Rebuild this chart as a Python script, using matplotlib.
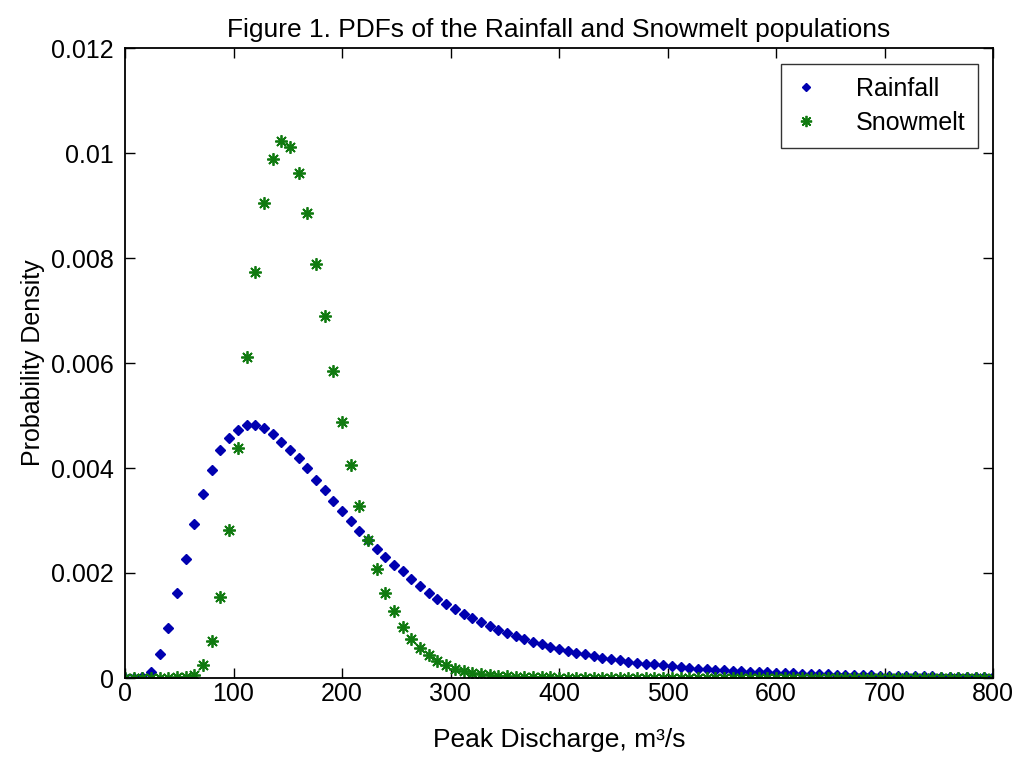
import matplotlib
matplotlib.use("Agg")
import matplotlib.pyplot as plt
from matplotlib.ticker import FixedLocator

plt.rcParams['font.family'] = ['Liberation Sans', 'DejaVu Sans']

# Sample grid of peak discharge (m^3/s)
discharge = list(range(0, 801, 8))

rainfall = [
    0.0, 0.0, 0.00002, 0.00012, 0.00046, 0.00096, 0.00162, 0.00227, 0.00293, 0.00350,
    0.00396, 0.00435, 0.00457, 0.00472, 0.00481, 0.00481, 0.00476, 0.00465, 0.00450, 0.00435,
    0.00419, 0.00400, 0.00378, 0.00358, 0.00338, 0.00319, 0.00299, 0.00280, 0.00262, 0.00245,
    0.00231, 0.00216, 0.00203, 0.00189, 0.00175, 0.00162, 0.00151, 0.00141, 0.00131, 0.00122,
    0.00114, 0.00107, 0.00100, 0.00092, 0.00086, 0.00080, 0.00074, 0.00069, 0.00064, 0.00059,
    0.00055, 0.00051, 0.00048, 0.00045, 0.00042, 0.00039, 0.00036, 0.00034, 0.00031, 0.00029,
    0.00027, 0.00026, 0.00024, 0.00023, 0.00021, 0.00020, 0.00018, 0.00017, 0.00016, 0.00015,
    0.00014, 0.00013, 0.00012, 0.00011, 0.00011, 0.00010, 0.00009, 0.00009, 0.00008, 0.00008,
    0.00007, 0.00007, 0.00006, 0.00006, 0.00005, 0.00005, 0.00005, 0.00004, 0.00004, 0.00004,
    0.00003, 0.00003, 0.00003, 0.00003, 0.00002, 0.00002, 0.00002, 0.00002, 0.00002, 0.00002,
    0.00001,
]

snowmelt = [
    0.0, 0.0, 0.0, 0.0, 0.0, 0.0, 0.00001, 0.00002, 0.00005, 0.00024,
    0.00071, 0.00154, 0.00281, 0.00438, 0.00612, 0.00773, 0.00904, 0.00988, 0.01023, 0.01012,
    0.00961, 0.00885, 0.00789, 0.00689, 0.00585, 0.00488, 0.00405, 0.00328, 0.00262, 0.00208,
    0.00162, 0.00127, 0.00098, 0.00074, 0.00057, 0.00043, 0.00032, 0.00024, 0.00018, 0.00013,
    0.00010, 0.00007, 0.00005, 0.00004, 0.00003, 0.00002, 0.00002, 0.00001, 0.00001, 0.00001,
    0.0, 0.0, 0.0, 0.0, 0.0, 0.0, 0.0, 0.0, 0.0, 0.0,
    0.0, 0.0, 0.0, 0.0, 0.0, 0.0, 0.0, 0.0, 0.0, 0.0,
    0.0, 0.0, 0.0, 0.0, 0.0, 0.0, 0.0, 0.0, 0.0, 0.0,
    0.0, 0.0, 0.0, 0.0, 0.0, 0.0, 0.0, 0.0, 0.0, 0.0,
    0.0, 0.0, 0.0, 0.0, 0.0, 0.0, 0.0, 0.0, 0.0, 0.0,
    0.0,
]

x_ticks = [0, 100, 200, 300, 400, 500, 600, 700, 800]
y_ticks = [0, 0.002, 0.004, 0.006, 0.008, 0.010, 0.012]
y_tick_labels = ["0", "0.002", "0.004", "0.006", "0.008", "0.01", "0.012"]

title = "Figure 1. PDFs of the Rainfall and Snowmelt populations"
xlabel = "Peak Discharge, m\u00b3/s"
ylabel = "Probability Density"

FS = 18

fig = plt.figure(figsize=(10.17, 7.61), dpi=100)
ax = fig.add_axes([125 / 1017, 1 - 678 / 761, 868 / 1017, 630 / 761])

ax.plot(discharge, rainfall, linestyle='none', marker='D', markersize=4.8,
        color='#0000b0', markeredgecolor='#0000b0', label='Rainfall')
ax.plot(discharge, snowmelt, linestyle='none', marker=(8, 2, 0), markersize=9,
        markeredgewidth=1.3, color='#107a10', markeredgecolor='#107a10', label='Snowmelt')

ax.set_xlim(0, 800)
ax.set_ylim(0, 0.012)
ax.xaxis.set_major_locator(FixedLocator(x_ticks))
ax.set_yticks(y_ticks)
ax.set_yticklabels(y_tick_labels)

ax.tick_params(direction='in', length=7, width=1, top=True, right=True,
               labelsize=FS, colors='black')
ax.tick_params(axis='x', pad=3)
ax.tick_params(axis='y', pad=8)
for sp in ax.spines.values():
    sp.set_linewidth(1.3)
    sp.set_color('black')

ax.set_title(title, fontsize=19, pad=8)
ax.set_xlabel(xlabel, fontsize=19, labelpad=16)
ax.set_ylabel(ylabel, fontsize=FS, labelpad=4)

leg = ax.legend(loc='upper right', bbox_to_anchor=((978 - 125) / 868, (678 - 64) / 630),
                borderaxespad=0, fontsize=FS, frameon=True, fancybox=False,
                handlelength=1.0, handletextpad=1.5, borderpad=0.5, labelspacing=0.42,
                markerscale=0.9, numpoints=1)
leg.get_frame().set_edgecolor('black')
leg.get_frame().set_linewidth(1.0)

fig.savefig('out.png', dpi=100)
